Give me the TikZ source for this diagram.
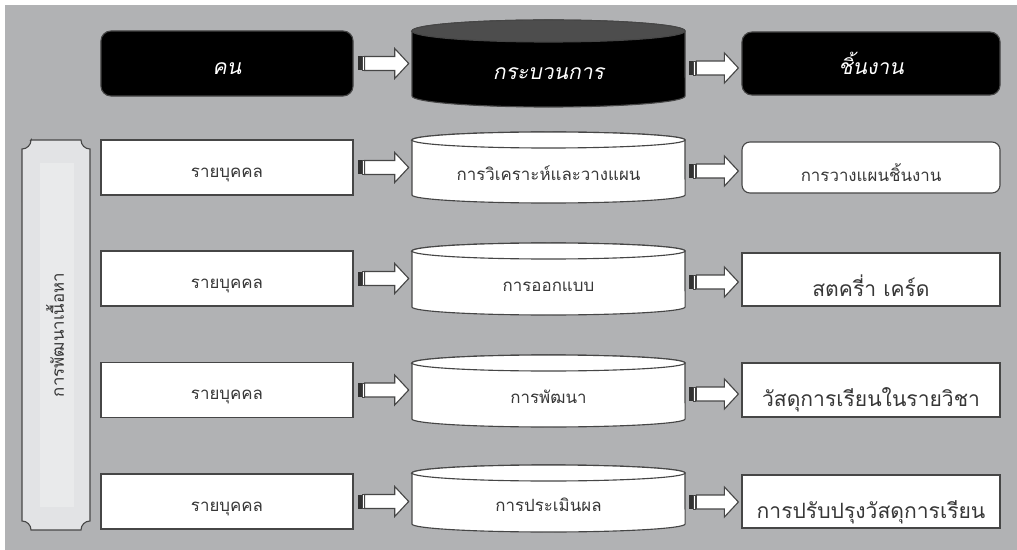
\documentclass[tikz,border=0pt]{standalone}
\usepackage{fontspec}
\newfontfamily\thaifont[Script=Thai]{Loma}
\newfontfamily\thaiitfont[Script=Thai,FakeSlant=0.2]{Loma}
\usetikzlibrary{calc}
\definecolor{bggrey}{RGB}{177,178,180}
\definecolor{edgec}{RGB}{70,70,70}
\definecolor{txtc}{RGB}{55,55,55}
\definecolor{panelc}{RGB}{226,227,229}
\definecolor{panelin}{RGB}{233,234,235}
\definecolor{ctop}{RGB}{77,77,77}
\definecolor{barc}{RGB}{50,50,50}

\newcommand\cylbody[7]{%
  \path[draw=edgec,line width=0.8pt,fill=#6] (#1,#3) -- (#1,#4)
    arc[start angle=180,end angle=360,x radius=3.4125cm,y radius=#5]
    -- (#2,#3) arc[start angle=0,end angle=180,x radius=3.4125cm,y radius=#5] -- cycle;
  \path[draw=edgec,line width=0.8pt,fill=#7] ({(#1+#2)/2},#3) ellipse[x radius=3.4125cm,y radius=#5];
}
\newcommand\sarrow[2]{%
  \fill[barc] ($(#1.east)+(4,-7)$) rectangle ($(#1.east)+(8,7)$);
  \draw[edgec,line width=0.5pt,fill=white] ($(#1.east)+(8.5,-7)$) rectangle ($(#1.east)+(10.5,7)$);
  \draw[edgec,line width=0.8pt,fill=white,line join=miter]
    ($(#1.east)+(11,-7)$) -- ($(#2.west |- #1.east)+(-17,-7)$)
    -- ($(#2.west |- #1.east)+(-17,-15)$) -- ($(#2.west |- #1.east)+(-3,0)$)
    -- ($(#2.west |- #1.east)+(-17,15)$) -- ($(#2.west |- #1.east)+(-17,7)$)
    -- ($(#1.east)+(11,7)$) -- cycle;
}

\begin{document}
\begin{tikzpicture}[x=0.025cm,y=-0.025cm,
  small/.style={font=\thaifont\fontsize{12}{14}\selectfont,text height=14pt,text depth=0pt},
  big/.style={font=\thaifont\fontsize{15}{18}\selectfont,text height=24pt,text depth=0pt},
  bigit/.style={font=\thaiitfont\fontsize{15}{18}\selectfont,text height=16pt,text depth=0pt},
  lbox/.style={draw=edgec,line width=0.8pt,fill=white,minimum width=6.3cm,
    minimum height=1.375cm,inner sep=0pt,text=txtc,small},
  rbox/.style={lbox,minimum width=6.45cm,minimum height=1.35cm,big},
  topbox/.style={draw=edgec,line width=0.8pt,fill=black,rounded corners=0.25cm,
    minimum width=6.3cm,minimum height=1.625cm,inner sep=0pt,text=white,bigit},
  cyltext/.style={minimum width=6.825cm,minimum height=1.2cm,inner sep=0pt,
    text=txtc,small}]
\useasboundingbox (0,0) rectangle (1017,550);
\fill[white] (0,0) rectangle (1017,550);
\fill[bggrey] (5,5) rectangle (1017,550);

% side panel
\path[draw=edgec,line width=0.8pt,fill=panelc] (31,140) -- (81,140)
  arc[start angle=180,end angle=270,radius=0.225cm] -- (90,521)
  arc[start angle=90,end angle=180,radius=0.225cm] -- (31,530)
  arc[start angle=0,end angle=90,radius=0.225cm] -- (22,149)
  arc[start angle=270,end angle=360,radius=0.225cm] -- cycle;
\fill[panelin] (40,163) rectangle (74,507);
\node[rotate=90,text=txtc,inner sep=0pt,small] (sidelabel) at (54,335) {การพัฒนาเนื้อหา};

% top row
\node[topbox] (person) at (227,63.5) {คน};
\cylbody{412}{685}{31}{96}{0.275cm}{black}{ctop}
\node[cyltext,text=white,bigit] (proc) at (548.5,68) {กระบวนการ};
\node[topbox,minimum width=6.45cm,minimum height=1.575cm] (product) at (871,63.5) {ชิ้นงาน};
\sarrow{person}{proc}
\sarrow{proc}{product}

% rows
\node[lbox] (p1) at (227,167.5) {รายบุคคล};
\node[lbox] (p2) at (227,278.5) {รายบุคคล};
\node[lbox] (p3) at (227,390) {รายบุคคล};
\node[lbox] (p4) at (227,501.5) {รายบุคคล};

\cylbody{412}{685}{140}{195}{0.2cm}{white}{white}
\cylbody{412}{685}{251}{307}{0.2cm}{white}{white}
\cylbody{412}{685}{363}{419}{0.2cm}{white}{white}
\cylbody{412}{685}{473}{524}{0.2cm}{white}{white}
\node[cyltext] (c1) at (548.5,171) {การวิเคราะห์และวางแผน};
\node[cyltext] (c2) at (548.5,282) {การออกแบบ};
\node[cyltext] (c3) at (548.5,394) {การพัฒนา};
\node[cyltext] (c4) at (548.5,502) {การประเมินผล};

\node[rbox,rounded corners=0.2cm,minimum height=1.275cm,small,text height=20pt] (r1) at (871,167.5) {การวางแผนชิ้นงาน};
\node[rbox,minimum height=1.325cm] (r2) at (871,279.5) {สตครี่า เคร์ด};
\node[rbox] (r3) at (871,390) {วัสดุการเรียนในรายวิชา};
\node[rbox,minimum height=1.325cm] (r4) at (871,501.5) {การปรับปรุงวัสดุการเรียน};

\sarrow{p1}{c1}\sarrow{p2}{c2}\sarrow{p3}{c3}\sarrow{p4}{c4}
\sarrow{c1}{r1}\sarrow{c2}{r2}\sarrow{c3}{r3}\sarrow{c4}{r4}
\end{tikzpicture}
\end{document}
